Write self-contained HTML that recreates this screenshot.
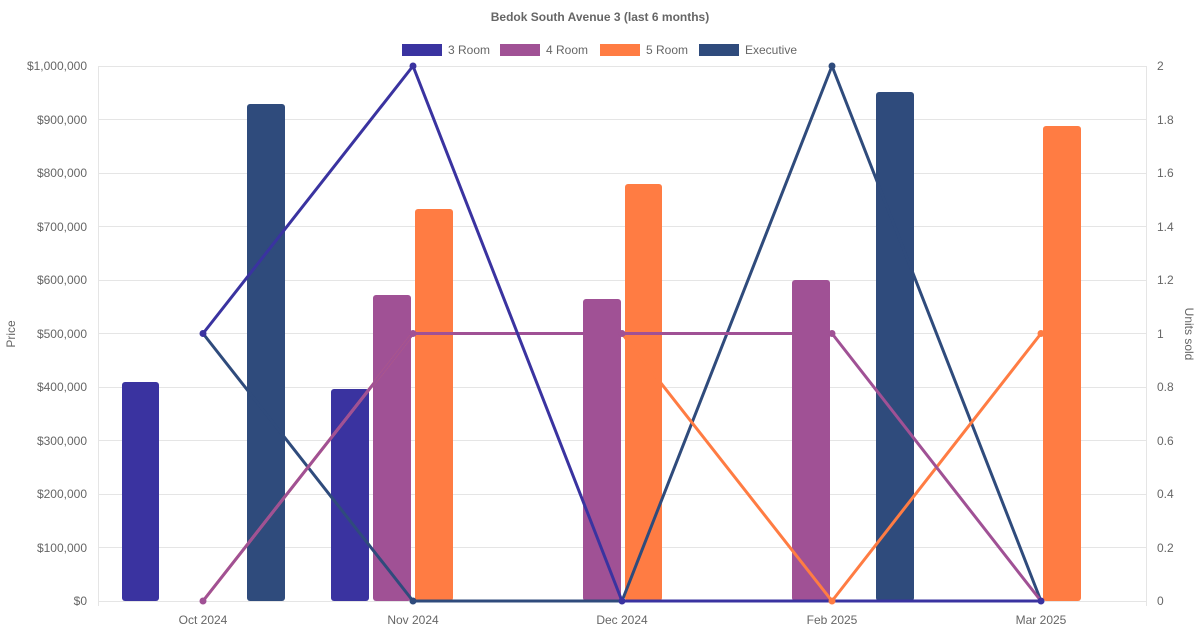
<!DOCTYPE html>
<html><head><meta charset="utf-8"><style>
html,body{margin:0;padding:0;background:#fff;}
svg{display:block;font-family:"Liberation Sans",Arial,sans-serif;}
</style></head><body>
<svg width="1200" height="630" viewBox="0 0 1200 630" xmlns="http://www.w3.org/2000/svg">
<text x="600" y="21" text-anchor="middle" font-size="12" font-weight="bold" fill="#666">Bedok South Avenue 3 (last 6 months)</text>
<g font-size="12" fill="#666">
<rect x="402" y="44" width="40" height="12" fill="#3a33a0"/><text x="448" y="54">3 Room</text>
<rect x="500" y="44" width="40" height="12" fill="#a05195"/><text x="546" y="54">4 Room</text>
<rect x="600" y="44" width="40" height="12" fill="#ff7c43"/><text x="646" y="54">5 Room</text>
<rect x="699" y="44" width="40" height="12" fill="#2f4b7c"/><text x="745" y="54">Executive</text>
</g>
<g stroke="#e5e5e5" stroke-width="1">
<line x1="98" y1="66.5" x2="1146" y2="66.5"/><line x1="98" y1="119.5" x2="1146" y2="119.5"/>
<line x1="98" y1="173.5" x2="1146" y2="173.5"/><line x1="98" y1="226.5" x2="1146" y2="226.5"/>
<line x1="98" y1="280.5" x2="1146" y2="280.5"/><line x1="98" y1="333.5" x2="1146" y2="333.5"/>
<line x1="98" y1="387.5" x2="1146" y2="387.5"/><line x1="98" y1="440.5" x2="1146" y2="440.5"/>
<line x1="98" y1="494.5" x2="1146" y2="494.5"/><line x1="98" y1="547.5" x2="1146" y2="547.5"/>
<line x1="98" y1="601.5" x2="1146" y2="601.5"/>
<line x1="98.5" y1="66" x2="98.5" y2="606"/><line x1="1146.5" y1="66" x2="1146.5" y2="606"/>
</g>
<g font-size="12" fill="#666" text-anchor="end">
<text x="87" y="70">$1,000,000</text><text x="87" y="124">$900,000</text><text x="87" y="177">$800,000</text>
<text x="87" y="231">$700,000</text><text x="87" y="284">$600,000</text><text x="87" y="338">$500,000</text>
<text x="87" y="391">$400,000</text><text x="87" y="445">$300,000</text><text x="87" y="498">$200,000</text>
<text x="87" y="552">$100,000</text><text x="87" y="605">$0</text>
</g>
<g font-size="12" fill="#666">
<text x="1157" y="70">2</text><text x="1157" y="124">1.8</text><text x="1157" y="177">1.6</text>
<text x="1157" y="231">1.4</text><text x="1157" y="284">1.2</text><text x="1157" y="338">1</text>
<text x="1157" y="391">0.8</text><text x="1157" y="445">0.6</text><text x="1157" y="498">0.4</text>
<text x="1157" y="552">0.2</text><text x="1157" y="605">0</text>
</g>
<g font-size="12" fill="#666" text-anchor="middle">
<text x="203" y="624">Oct 2024</text><text x="413" y="624">Nov 2024</text><text x="622" y="624">Dec 2024</text>
<text x="832" y="624">Feb 2025</text><text x="1041" y="624">Mar 2025</text>
</g>
<text transform="translate(15,334) rotate(-90)" text-anchor="middle" font-size="12" fill="#666">Price</text>
<text transform="translate(1185,334) rotate(90)" text-anchor="middle" font-size="12" fill="#666">Units sold</text>
<g>
<rect x="122" y="382" width="37" height="219" rx="3" fill="#3a33a0"/>
<rect x="247" y="104" width="38" height="497" rx="3" fill="#2f4b7c"/>
<rect x="331" y="389" width="38" height="212" rx="3" fill="#3a33a0"/>
<rect x="373" y="295" width="38" height="306" rx="3" fill="#a05195"/>
<rect x="415" y="209" width="38" height="392" rx="3" fill="#ff7c43"/>
<rect x="583" y="299" width="38" height="302" rx="3" fill="#a05195"/>
<rect x="625" y="184" width="37" height="417" rx="3" fill="#ff7c43"/>
<rect x="792" y="280" width="38" height="321" rx="3" fill="#a05195"/>
<rect x="876" y="92" width="38" height="509" rx="3" fill="#2f4b7c"/>
<rect x="1043" y="126" width="38" height="475" rx="3" fill="#ff7c43"/>
</g>
<g fill="none" stroke-width="3" stroke-linejoin="round">
<polyline points="203,333.5 413,601 622,601 832,66 1041,601" stroke="#2f4b7c"/>
<polyline points="203,601 413,333.5 622,333.5 832,601 1041,333.5" stroke="#ff7c43"/>
<polyline points="203,601 413,333.5 622,333.5 832,333.5 1041,601" stroke="#a05195"/>
<polyline points="203,333.5 413,66 622,601 832,601 1041,601" stroke="#3a33a0"/>
</g>
<g>
<circle cx="1041" cy="333.5" r="3.5" fill="#ff7c43"/><circle cx="832" cy="601" r="3.5" fill="#ff7c43"/>
<circle cx="832" cy="66" r="3.5" fill="#2f4b7c"/>
<circle cx="203" cy="601" r="3.5" fill="#a05195"/><circle cx="413" cy="333.5" r="3.5" fill="#a05195"/>
<circle cx="622" cy="333.5" r="3.5" fill="#a05195"/><circle cx="832" cy="333.5" r="3.5" fill="#a05195"/>
<circle cx="203" cy="333.5" r="3.5" fill="#3a33a0"/><circle cx="413" cy="66" r="3.5" fill="#3a33a0"/>
<circle cx="622" cy="601" r="3.5" fill="#3a33a0"/><circle cx="413" cy="601" r="3.5" fill="#2f4b7c"/>
<circle cx="1041" cy="601" r="3.5" fill="#3a33a0"/>
</g>
</svg>
</body></html>
